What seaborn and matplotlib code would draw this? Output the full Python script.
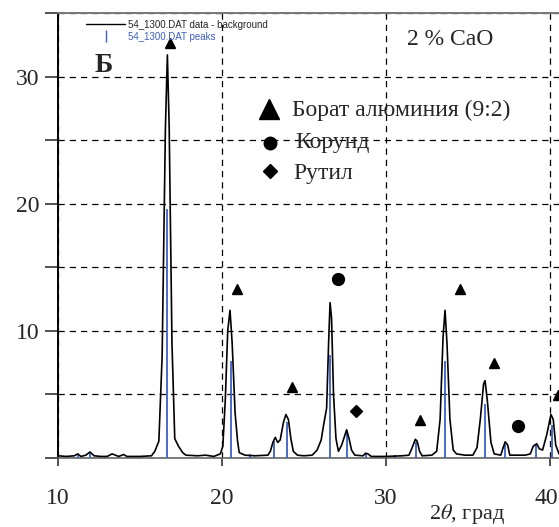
import numpy as np
import pandas as pd
import matplotlib
matplotlib.use("Agg")
import matplotlib.pyplot as plt
import matplotlib.transforms as mtransforms
import seaborn as sns
from matplotlib.lines import Line2D

# XRD profile (data - background)
two_theta = [10.0, 10.5, 11.0, 11.2, 11.4, 11.7, 11.95, 12.2, 12.6, 13.0, 13.3, 13.5, 13.7, 14.0, 14.2,
             15.0, 15.7, 15.9, 16.15, 16.35, 16.55, 16.67, 16.78, 16.95, 17.12, 17.35, 17.6, 17.8,
             18.5, 19.0, 19.5, 19.9, 20.05, 20.2, 20.35, 20.49, 20.62, 20.8, 20.95, 21.05, 21.4,
             22.0, 22.8, 22.95, 23.1, 23.25, 23.4, 23.55, 23.75, 23.9, 24.05, 24.2, 24.35, 24.6,
             25.0, 25.5, 25.8, 26.05, 26.2, 26.38, 26.5, 26.59, 26.68, 26.8, 26.95, 27.1, 27.3,
             27.6, 27.75, 27.9, 28.1, 28.6, 28.75, 28.9, 29.1, 30.0, 31.0, 31.4, 31.6, 31.79,
             31.9, 32.05, 32.2, 32.8, 33.09, 33.3, 33.48, 33.6, 33.72, 33.9, 34.1, 34.3, 34.8,
             35.3, 35.55, 35.75, 35.95, 36.04, 36.18, 36.4, 36.6, 37.0, 37.12, 37.27, 37.42,
             37.55, 38.5, 38.8, 38.98, 39.19, 39.35, 39.55, 39.8, 40.06, 40.2, 40.35, 40.55]
intensity = [0.15, 0.1, 0.15, 0.3, 0.1, 0.2, 0.45, 0.15, 0.1, 0.1, 0.3, 0.2, 0.1, 0.25, 0.1,
             0.1, 0.15, 0.5, 1.3, 8.0, 26.0, 31.7, 26.0, 9.0, 1.5, 0.9, 0.4, 0.2,
             0.15, 0.2, 0.1, 0.3, 0.9, 4.5, 10.0, 11.6, 9.0, 3.5, 1.3, 0.4, 0.2,
             0.15, 0.2, 0.5, 1.2, 1.6, 1.2, 1.4, 2.8, 3.4, 3.0, 1.5, 0.5, 0.2,
             0.15, 0.2, 0.6, 1.4, 2.6, 3.9, 9.0, 12.2, 11.0, 5.0, 1.5, 0.5, 1.0,
             2.2, 1.5, 0.6, 0.2, 0.15, 0.35, 0.3, 0.1, 0.1, 0.15, 0.2, 0.8, 1.45,
             1.3, 0.5, 0.15, 0.2, 0.5, 3.0, 9.5, 11.6, 9.0, 3.0, 0.6, 0.3, 0.2,
             0.2, 0.8, 3.0, 5.8, 6.06, 4.5, 1.2, 0.3, 0.2, 0.7, 1.25, 1.0,
             0.2, 0.2, 0.3, 0.9, 1.1, 0.7, 0.6, 1.8, 3.4, 3.0, 1.0, 0.3]

# peak list (blue sticks)
peak_pos = [11.2, 11.95, 16.67, 20.55, 21.7, 23.2, 23.95, 26.6, 27.6, 28.8, 30.55,
            31.8, 33.6, 36.05, 37.27, 39.15, 40.1]
peak_height = [0.3, 0.35, 19.6, 7.6, 0.3, 1.3, 2.8, 8.1, 2.0, 0.3, 0.25,
               1.2, 7.6, 4.25, 1.1, 1.0, 2.6]

# phase markers above the peaks
borate_x = [16.83, 20.93, 24.27, 32.1, 34.5, 36.6, 40.5]
borate_y = [32.6, 13.3, 5.6, 2.97, 13.3, 7.43, 4.94]
corundum_x = [27.07, 38.05]
corundum_y = [14.05, 2.5]
rutile_x = [28.2]
rutile_y = [3.65]

xtick_vals = [10, 20, 30, 40]
ytick_vals = [0, 5, 10, 15, 20, 25, 30, 35]
ytick_labels = ["", "", "10", "", "20", "", "30", ""]
phase_names = ["Борат алюминия (9:2)", "Корунд", "Рутил"]

sns.set_style("ticks")
plt.rcParams["font.family"] = ["Liberation Serif", "DejaVu Serif"]
plt.rcParams["mathtext.fontset"] = "stix"

blue = "#3f5fbf"

fig = plt.figure(figsize=(5.59, 5.27), dpi=100)
ax = fig.add_axes([58 / 559, 69.3 / 527, 1 - 58 / 559, 444.7 / 527])

ax.vlines(peak_pos, 0, peak_height, color=blue, lw=1.3, zorder=3)
df = pd.DataFrame({"x": two_theta, "y": intensity})
sns.lineplot(data=df, x="x", y="y", sort=False, estimator=None, color="black", lw=1.2, ax=ax, zorder=4)

ax.plot(borate_x, borate_y, ls="none", marker="^", ms=7.5, color="black", zorder=5)
ax.plot(corundum_x, corundum_y, ls="none", marker="o", ms=8.5, color="black", zorder=5)
ax.plot(rutile_x, rutile_y, ls="none", marker="D", ms=6.5, color="black", zorder=5)

ax.set_xlim(10, 40.55)
ax.set_ylim(0, 35)
ax.set_xticks(xtick_vals)
ax.set_yticks(ytick_vals)
ax.set_yticklabels(ytick_labels)
ax.tick_params(axis="x", direction="out", length=6, width=1.2, pad=16, labelsize=17, color="#333")
ax.tick_params(axis="y", direction="out", length=9.4, width=1.2, pad=4, labelsize=17, color="#333")

# nudge the last x label so it stays inside the figure
last = ax.get_xticklabels()[-1]
last.set_transform(last.get_transform() + mtransforms.ScaledTranslation(-4 / 100, 0, fig.dpi_scale_trans))

ax.grid(True, color="black", lw=0.9, ls=(0, (5, 4)))
ax.set_axisbelow(True)
ax.spines["right"].set_visible(False)
ax.spines["left"].set_color("black")
ax.spines["left"].set_linewidth(1.4)
ax.spines["bottom"].set_color("#666")
ax.spines["bottom"].set_linewidth(1.2)
ax.spines["top"].set_color("#777")
ax.spines["top"].set_linewidth(1.4)

ax.set_xlabel(r"2$\theta$, град", fontsize=16)
ax.xaxis.set_label_coords(0.816, -0.100)
ax.set_ylabel("")

# file legend (top-left, small sans text)
handles = [Line2D([], [], color="black", lw=1.0),
           Line2D([], [], color=blue, ls="none", marker="|", ms=9, mew=1.0)]
leg = ax.legend(handles, ["54_1300.DAT data - background", "54_1300.DAT peaks"],
                loc="upper left", bbox_to_anchor=(0.056, 0.985), borderaxespad=0, borderpad=0,
                frameon=False, handlelength=4.0, handletextpad=0.3, labelspacing=0.2,
                prop={"family": "Liberation Sans", "size": 7})
leg.get_texts()[1].set_color(blue)

# phase legend
ax.plot([0.421], [0.784], marker="^", ms=14, color="black", ls="none", transform=ax.transAxes, clip_on=False)
ax.plot([0.423], [0.707], marker="o", ms=9, color="black", ls="none", transform=ax.transAxes, clip_on=False)
ax.plot([0.423], [0.644], marker="D", ms=7, color="black", ls="none", transform=ax.transAxes, clip_on=False)
ax.text(0.467, 0.782, phase_names[0], transform=ax.transAxes, fontsize=17, va="center")
ax.text(0.473, 0.708, phase_names[1], transform=ax.transAxes, fontsize=17, va="center")
ax.text(0.469, 0.638, phase_names[2], transform=ax.transAxes, fontsize=17, va="center")

ax.text(0.697, 0.9415, "2 % CaO", transform=ax.transAxes, fontsize=17, va="center")
ax.text(0.092, 0.881, "Б", transform=ax.transAxes, fontsize=20, fontweight="bold", ha="center", va="center")

fig.savefig("out.png", dpi=100)
